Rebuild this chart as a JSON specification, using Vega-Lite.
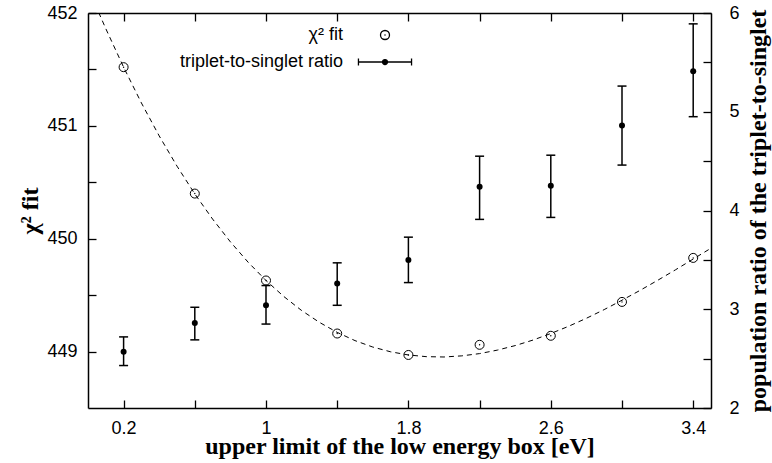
{
  "$schema": "https://vega.github.io/schema/vega-lite/v6.json",
  "width": 623,
  "height": 395,
  "autosize": {"type": "none"},
  "padding": {"left": 88, "top": 13, "right": 61, "bottom": 55},
  "background": "white",
  "config": {
    "view": {"stroke": null},
    "axis": {
      "domainColor": "black", "domainWidth": 1.5,
      "tickColor": "black", "tickWidth": 1.3, "tickSize": -8,
      "grid": false, "format": "~g",
      "labelFont": "Liberation Sans", "labelFontSize": 18, "labelColor": "black",
      "labelFlush": false, "labelOverlap": false,
      "titleFont": "Liberation Serif", "titleFontWeight": "bold", "titleFontSize": 24, "titleColor": "black"
    }
  },
  "datasets": {
    "pts": [
      {"x": 0.2, "series": "χ² fit", "value": 451.52},
      {"x": 0.6, "series": "χ² fit", "value": 450.40},
      {"x": 1.0, "series": "χ² fit", "value": 449.63},
      {"x": 1.4, "series": "χ² fit", "value": 449.16},
      {"x": 1.8, "series": "χ² fit", "value": 448.97},
      {"x": 2.2, "series": "χ² fit", "value": 449.06},
      {"x": 2.6, "series": "χ² fit", "value": 449.14},
      {"x": 3.0, "series": "χ² fit", "value": 449.44},
      {"x": 3.4, "series": "χ² fit", "value": 449.83},
      {"x": 0.2, "series": "triplet-to-singlet ratio", "value": 2.57, "lo": 2.43, "hi": 2.72},
      {"x": 0.6, "series": "triplet-to-singlet ratio", "value": 2.86, "lo": 2.69, "hi": 3.02},
      {"x": 1.0, "series": "triplet-to-singlet ratio", "value": 3.04, "lo": 2.85, "hi": 3.24},
      {"x": 1.4, "series": "triplet-to-singlet ratio", "value": 3.26, "lo": 3.04, "hi": 3.47},
      {"x": 1.8, "series": "triplet-to-singlet ratio", "value": 3.50, "lo": 3.27, "hi": 3.73},
      {"x": 2.2, "series": "triplet-to-singlet ratio", "value": 4.24, "lo": 3.91, "hi": 4.55},
      {"x": 2.6, "series": "triplet-to-singlet ratio", "value": 4.25, "lo": 3.93, "hi": 4.56},
      {"x": 3.0, "series": "triplet-to-singlet ratio", "value": 4.86, "lo": 4.46, "hi": 5.26},
      {"x": 3.4, "series": "triplet-to-singlet ratio", "value": 5.41, "lo": 4.95, "hi": 5.89}
    ],
    "fit": [
      {"x": 0.06, "chi2": 452.005}, {"x": 0.1, "chi2": 451.861}, {"x": 0.2, "chi2": 451.520},
      {"x": 0.3, "chi2": 451.203}, {"x": 0.4, "chi2": 450.911}, {"x": 0.5, "chi2": 450.643},
      {"x": 0.6, "chi2": 450.397}, {"x": 0.7, "chi2": 450.174}, {"x": 0.8, "chi2": 449.972},
      {"x": 0.9, "chi2": 449.791}, {"x": 1.0, "chi2": 449.630}, {"x": 1.1, "chi2": 449.488},
      {"x": 1.2, "chi2": 449.364}, {"x": 1.3, "chi2": 449.259}, {"x": 1.4, "chi2": 449.170},
      {"x": 1.5, "chi2": 449.097}, {"x": 1.6, "chi2": 449.040}, {"x": 1.7, "chi2": 448.998},
      {"x": 1.8, "chi2": 448.970}, {"x": 1.9, "chi2": 448.955}, {"x": 2.0, "chi2": 448.952},
      {"x": 2.1, "chi2": 448.962}, {"x": 2.2, "chi2": 448.982}, {"x": 2.3, "chi2": 449.013},
      {"x": 2.4, "chi2": 449.053}, {"x": 2.5, "chi2": 449.102}, {"x": 2.6, "chi2": 449.160},
      {"x": 2.7, "chi2": 449.224}, {"x": 2.8, "chi2": 449.295}, {"x": 2.9, "chi2": 449.372},
      {"x": 3.0, "chi2": 449.455}, {"x": 3.1, "chi2": 449.541}, {"x": 3.2, "chi2": 449.631},
      {"x": 3.3, "chi2": 449.724}, {"x": 3.4, "chi2": 449.820}, {"x": 3.5, "chi2": 449.916}
    ]
  },
  "layer": [
    {
      "encoding": {
        "x": {
          "field": "x", "type": "quantitative",
          "scale": {"domain": [0, 3.5], "nice": false, "zero": false},
          "axis": {
            "orient": "bottom",
            "values": [0.2, 0.6, 1.0, 1.4, 1.8, 2.2, 2.6, 3.0, 3.4],
            "labelExpr": "round(datum.value*10) % 8 === 2 ? datum.label : ''",
            "labelPadding": 19,
            "title": "upper limit of the low energy box [eV]",
            "titlePadding": -3
          }
        }
      },
      "layer": [
        {
          "data": {"name": "fit"},
          "mark": {"type": "line", "color": "black", "strokeWidth": 1, "strokeDash": [5, 4], "clip": true},
          "encoding": {
            "y": {
              "field": "chi2", "type": "quantitative",
              "scale": {"domain": [448.5, 452], "nice": false, "zero": false},
              "axis": {
                "orient": "left",
                "values": [449, 449.5, 450, 450.5, 451, 451.5, 452],
                "labelExpr": "datum.value % 1 === 0 ? datum.label : ''",
                "labelPadding": 19,
                "title": "χ² fit",
                "titlePadding": 4
              }
            }
          }
        },
        {
          "data": {"name": "pts"},
          "transform": [{"filter": "datum.series === 'χ² fit'"}],
          "mark": {"type": "point", "shape": "circle", "filled": false, "color": "black", "strokeWidth": 1, "size": 81, "opacity": 1},
          "encoding": {"y": {"field": "value", "type": "quantitative"}}
        },
        {
          "data": {"name": "pts"},
          "transform": [{"filter": "datum.series === 'χ² fit'"}],
          "mark": {"type": "point", "shape": "circle", "filled": true, "color": "black", "size": 2, "opacity": 1},
          "encoding": {"y": {"field": "value", "type": "quantitative"}}
        },
        {
          "data": {"name": "pts"},
          "mark": {"type": "point", "color": "black", "opacity": 0},
          "encoding": {
            "shape": {
              "field": "series", "type": "nominal",
              "scale": {
                "domain": ["χ² fit", "triplet-to-singlet ratio"],
                "range": ["M-1,0A1,1,0,1,0,1,0A1,1,0,1,0,-1,0ZM-0.12,0L0.12,0", "M-5.9,0H5.9M-5.9,-0.78V0.78M5.9,-0.78V0.78M-0.55,0A0.55,0.55,0,1,0,0.55,0A0.55,0.55,0,1,0,-0.55,0Z"]
              },
              "legend": {
                "title": null,
                "orient": "none",
                "legendX": 288,
                "legendY": 13,
                "padding": 0,
                "labelAlign": "right",
                "labelOffset": -51,
                "labelLimit": 400,
                "labelFont": "Liberation Sans",
                "labelFontSize": 18,
                "labelColor": "black",
                "rowPadding": 9,
                "symbolSize": 81,
                "symbolStrokeColor": "black",
                "symbolStrokeWidth": 1.3,
                "symbolOpacity": 1,
                "encoding": {
                  "symbols": {
                    "opacity": {"value": 1},
                    "stroke": {"value": "black"},
                    "fill": {"value": {"expr": "datum.value === 'χ² fit' ? 'transparent' : 'black'"}}
                  }
                }
              }
            }
          }
        }
      ]
    },
    {
      "data": {"name": "pts"},
      "transform": [{"filter": "datum.series === 'triplet-to-singlet ratio'"}],
      "encoding": {
        "x": {
          "field": "x", "type": "quantitative",
          "scale": {"domain": [0, 3.5], "nice": false, "zero": false},
          "axis": {
            "orient": "top",
            "values": [0.2, 0.6, 1.0, 1.4, 1.8, 2.2, 2.6, 3.0, 3.4],
            "labels": false,
            "title": null
          }
        }
      },
      "layer": [
        {
          "mark": {"type": "rule", "color": "black", "strokeWidth": 1.5},
          "encoding": {
            "y": {
              "field": "lo", "type": "quantitative",
              "scale": {"domain": [2, 6], "nice": false, "zero": false},
              "axis": {
                "orient": "right",
                "values": [2, 2.5, 3, 3.5, 4, 4.5, 5, 5.5, 6],
                "labelExpr": "datum.value % 1 === 0 ? datum.label : ''",
                "labelPadding": 26,
                "title": "population ratio of the triplet-to-singlet",
                "titleAngle": 270,
                "titleBaseline": "top",
                "titlePadding": 7
              }
            },
            "y2": {"field": "hi"}
          }
        },
        {
          "mark": {"type": "tick", "orient": "horizontal", "color": "black", "size": 9, "thickness": 1.5, "opacity": 1},
          "encoding": {"y": {"field": "lo", "type": "quantitative"}}
        },
        {
          "mark": {"type": "tick", "orient": "horizontal", "color": "black", "size": 9, "thickness": 1.5, "opacity": 1},
          "encoding": {"y": {"field": "hi", "type": "quantitative"}}
        },
        {
          "mark": {"type": "point", "shape": "circle", "filled": true, "color": "black", "size": 36, "opacity": 1},
          "encoding": {"y": {"field": "value", "type": "quantitative"}}
        }
      ]
    }
  ],
  "resolve": {"scale": {"y": "independent"}, "axis": {"x": "independent"}}
}
